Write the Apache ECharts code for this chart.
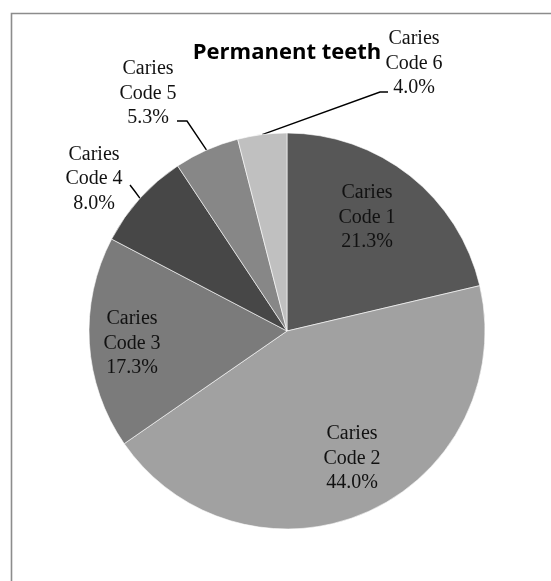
<!DOCTYPE html>
<html>
<head>
<meta charset="utf-8">
<script src="https://cdn.jsdelivr.net/npm/echarts@6/dist/echarts.min.js"></script>
<style>
  html, body { margin: 0; padding: 0; background: #fff; }
  #chart { width: 551px; height: 581px; }
</style>
</head>
<body>
<div id="chart"></div>
<script>
// ---- data ----
const categories = ['Caries Code 1', 'Caries Code 2', 'Caries Code 3', 'Caries Code 4', 'Caries Code 5', 'Caries Code 6'];
const values = [21.3, 44.0, 17.3, 8.0, 5.3, 4.0];
const titleText = 'Permanent teeth';

// ---- styling / layout ----
const colors = ['#575757', '#a1a1a1', '#7b7b7b', '#474747', '#878787', '#c0c0c0'];
const insideFlags = [true, true, true, false, false, false];
const CX = 287, CY = 331, R = 198;
// label anchor positions (pixels)
const labelPos = [[367, 217.5], [352, 458.5], [132, 343.5], [94, 179], [148, 93.5], [414, 63.5]];
// leader-line intermediate points (pixels), after the slice-edge point
const leaderPts = [null, null, null, [[135, 191.5], [130, 185]], [[187, 121], [177, 121]], [[380, 92], [388, 92]]];

const total = values.reduce((a, b) => a + b, 0);
const midAngles = [];
let acc = 0;
values.forEach(v => { midAngles.push((acc + v / 2) / total * Math.PI * 2); acc += v; });

const chart = echarts.init(document.getElementById('chart'), null, { renderer: 'canvas' });

const data = categories.map((name, i) => ({
  name: name,
  value: values[i],
  itemStyle: { color: colors[i] },
  label: { position: insideFlags[i] ? 'inside' : 'outside' },
  labelLine: { show: !insideFlags[i] }
}));

chart.setOption({
  animation: false,
  backgroundColor: '#fff',
  title: {
    text: titleText,
    left: 287,
    top: 42,
    textAlign: 'center',
    padding: 0,
    textStyle: { fontFamily: 'Open Sans', fontWeight: 'bold', fontSize: 22, color: '#000' }
  },
  graphic: [{
    type: 'rect',
    shape: { x: 11.5, y: 13.5, width: 700, height: 700 },
    style: { fill: 'none', stroke: '#8c8c8c', lineWidth: 1.6 },
    silent: true,
    z: -1
  }],
  series: [{
    type: 'pie',
    center: [CX, CY],
    radius: [0, R],
    startAngle: 90,
    clockwise: true,
    avoidLabelOverlap: false,
    itemStyle: { borderColor: '#ffffff', borderWidth: 0.6 },
    label: {
      show: true,
      fontFamily: 'Liberation Serif',
      fontSize: 20,
      lineHeight: 24.5,
      color: '#111',
      align: 'center',
      formatter: p => p.name.replace(' ', '\n') + '\n' + p.value.toFixed(1) + '%'
    },
    labelLine: {
      show: true,
      smooth: false,
      minTurnAngle: 0,
      maxSurfaceAngle: 180,
      lineStyle: { color: '#000', width: 1.4 }
    },
    labelLayout: function (params) {
      const i = params.dataIndex;
      const out = {
        x: labelPos[i][0],
        y: labelPos[i][1],
        align: 'center',
        verticalAlign: 'middle'
      };
      if (leaderPts[i]) {
        const a = midAngles[i];
        const edge = [CX + R * Math.sin(a), CY - R * Math.cos(a)];
        out.labelLinePoints = [edge].concat(leaderPts[i]);
      }
      return out;
    },
    data: data
  }]
});
</script>
</body>
</html>
